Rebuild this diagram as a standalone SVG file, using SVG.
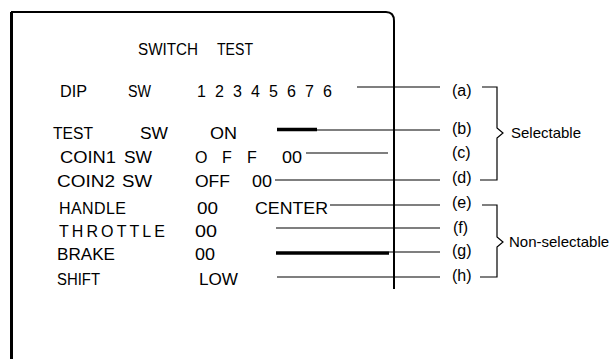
<svg xmlns="http://www.w3.org/2000/svg" width="612" height="359" viewBox="0 0 612 359">
<style>
text{font-family:"Liberation Sans",Arial,sans-serif;font-size:16px;fill:#000}
.sm{font-size:15px}
.ln{stroke:#000;stroke-width:1.2;fill:none}
.th{stroke:#000;stroke-width:3.5;fill:none}
.fr{stroke:#000;fill:none}
</style>
<rect width="612" height="359" fill="#fff"/>
<g id="frame">
<path class="fr" stroke-width="2" d="M11,12 H386 Q394,12 394,21 V289"/>
<line class="fr" stroke-width="3" x1="11.5" y1="12" x2="11.5" y2="359"/>
</g>
<g id="title"><text x="138" y="55" textLength="60" lengthAdjust="spacingAndGlyphs">SWITCH</text><text x="217" y="55" textLength="36" lengthAdjust="spacingAndGlyphs">TEST</text></g>
<g id="row-dip"><text x="60" y="97" textLength="27" lengthAdjust="spacingAndGlyphs">DIP</text><text x="128" y="97" textLength="23" lengthAdjust="spacingAndGlyphs">SW</text><text x="197 215 233 251 269 287 305 323" y="97">12345676</text></g>
<g id="row-test"><text x="53" y="139" textLength="40" lengthAdjust="spacingAndGlyphs">TEST</text><text x="140" y="139" textLength="28" lengthAdjust="spacingAndGlyphs">SW</text><text x="210" y="139" textLength="27" lengthAdjust="spacingAndGlyphs">ON</text></g>
<g id="row-coin1"><text x="60" y="163" textLength="56" lengthAdjust="spacingAndGlyphs">COIN1</text><text x="124" y="163" textLength="28" lengthAdjust="spacingAndGlyphs">SW</text><text x="195 222 247" y="163">OFF</text><text x="282" y="163" textLength="20" lengthAdjust="spacingAndGlyphs">00</text></g>
<g id="row-coin2"><text x="57" y="187" textLength="58" lengthAdjust="spacingAndGlyphs">COIN2</text><text x="122" y="187" textLength="30" lengthAdjust="spacingAndGlyphs">SW</text><text x="195" y="187" textLength="35" lengthAdjust="spacingAndGlyphs">OFF</text><text x="252" y="187" textLength="20" lengthAdjust="spacingAndGlyphs">00</text></g>
<g id="row-handle"><text x="59" y="214" textLength="67" lengthAdjust="spacing">HANDLE</text><text x="197" y="214" textLength="21" lengthAdjust="spacingAndGlyphs">00</text><text x="255" y="214" textLength="73" lengthAdjust="spacingAndGlyphs">CENTER</text></g>
<g id="row-throttle"><text x="59" y="237" textLength="106" lengthAdjust="spacing">THROTTLE</text><text x="195" y="237" textLength="22" lengthAdjust="spacingAndGlyphs">00</text></g>
<g id="row-brake"><text x="57" y="260" textLength="58" lengthAdjust="spacingAndGlyphs">BRAKE</text><text x="195" y="260" textLength="20" lengthAdjust="spacingAndGlyphs">00</text></g>
<g id="row-shift"><text x="57" y="285" textLength="43" lengthAdjust="spacingAndGlyphs">SHIFT</text><text x="199" y="285" textLength="39" lengthAdjust="spacingAndGlyphs">LOW</text></g>
<g id="connectors">
<line class="ln" x1="357" y1="87" x2="440" y2="87"/>
<line class="ln" x1="277" y1="130" x2="440" y2="130"/>
<line class="th" x1="277" y1="129.5" x2="317" y2="129.5"/>
<line class="ln" x1="306" y1="153" x2="388" y2="153"/>
<line class="ln" x1="275" y1="180" x2="440" y2="180"/>
<line class="ln" x1="330" y1="205" x2="440" y2="205"/>
<line class="ln" x1="276" y1="228" x2="440" y2="228"/>
<line class="th" x1="276" y1="253" x2="389" y2="253"/>
<line class="ln" x1="389" y1="252" x2="440" y2="252"/>
<line class="ln" x1="277" y1="277" x2="440" y2="277"/>
<path class="ln" d="M482,87 H497 V128 L503,133 L497,138 V180 H480"/>
<path class="ln" d="M482,205 H497 V237 L503,242 L497,247 V277 H480"/>
</g>
<g id="labels">
<text x="452" y="96">(a)</text>
<text x="452" y="134">(b)</text>
<text x="452" y="158">(c)</text>
<text x="452" y="183">(d)</text>
<text x="452" y="208">(e)</text>
<text x="453" y="233">(f)</text>
<text x="452" y="256">(g)</text>
<text x="452" y="281">(h)</text>
</g>
<g id="group-selectable"><text class="sm" x="511" y="138">Selectable</text></g>
<g id="group-nonselectable"><text class="sm" x="509" y="247">Non-selectable</text></g>
</svg>
